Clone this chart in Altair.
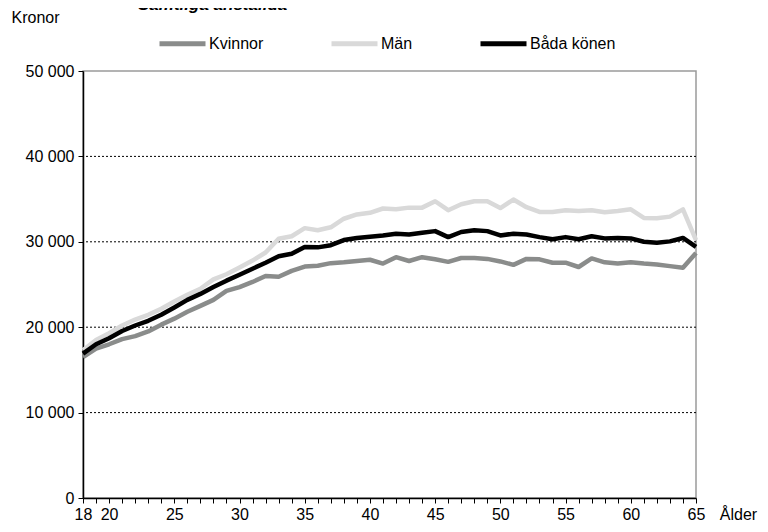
import altair as alt
import pandas as pd

ages = list(range(18, 66))
kvinnor = [16500, 17500, 18000, 18600, 18950, 19500, 20300, 21000, 21800, 22500,
           23200, 24250, 24700, 25300, 26000, 25900, 26600, 27100, 27200, 27500,
           27600, 27750, 27900, 27450, 28200, 27750, 28200, 27950, 27650, 28100,
           28100, 28000, 27700, 27300, 28000, 27950, 27550, 27550, 27050, 28050,
           27600, 27450, 27600, 27450, 27350, 27150, 26950, 28700]
man = [17300, 18500, 19300, 20200, 20900, 21450, 22150, 23000, 23800, 24500,
       25600, 26200, 27000, 27800, 28750, 30350, 30650, 31600, 31350, 31700,
       32700, 33200, 33400, 33900, 33800, 34000, 34000, 34750, 33700, 34400,
       34750, 34750, 33950, 34950, 34050, 33500, 33500, 33700, 33600, 33700,
       33450, 33600, 33800, 32800, 32750, 32950, 33800, 30200]
bada = [16900, 18000, 18700, 19550, 20200, 20750, 21450, 22300, 23200, 23900,
        24700, 25450, 26150, 26850, 27550, 28300, 28600, 29400, 29350, 29600,
        30200, 30450, 30600, 30750, 30950, 30850, 31050, 31250, 30550, 31150,
        31350, 31250, 30750, 30950, 30850, 30550, 30300, 30550, 30300, 30650,
        30400, 30450, 30400, 30000, 29900, 30050, 30450, 29400]
series_names = ["Kvinnor", "Män", "Båda könen"]
series_colors = ["#8a8c8b", "#d9d9d9", "#000000"]
y_ticks = [0, 10000, 20000, 30000, 40000, 50000]
grid_values = [10000, 20000, 30000, 40000]
x_label_values = [18, 20, 25, 30, 35, 40, 45, 50, 55, 60, 65]
title_text = ["Samtliga anställda"]

rows = []
for name, vals in zip(series_names, [kvinnor, man, bada]):
    for a, v in zip(ages, vals):
        rows.append({"Ålder": a, "Kronor": v, "Serie": name})
df = pd.DataFrame(rows)
grid_df = pd.DataFrame({"g": grid_values})
title_df = pd.DataFrame({"t": title_text})

FONT = "Liberation Sans"
FS = 16

x_scale = alt.Scale(domain=[18, 65], nice=False, zero=False)
y_scale = alt.Scale(domain=[0, 50000], nice=False)

label_test = " || ".join(f"datum.value == {v}" for v in x_label_values)

x_axis = alt.Axis(
    values=ages,
    labelExpr=f"({label_test}) ? datum.value : ''",
    tickSize=5, tickColor="black", tickWidth=1,
    domainColor="black", domainWidth=1.5,
    labelFont=FONT, labelFontSize=FS, labelColor="black", labelPadding=3,
    labelOverlap=False, labelFlush=False, grid=False,
    title="Ålder", titleFont=FONT, titleFontSize=FS, titleFontWeight="normal",
    titleColor="black", titleAngle=0, titleX=655, titleY=16,
    titleAlign="center", titleBaseline="middle",
)
y_axis = alt.Axis(
    values=y_ticks,
    labelExpr="replace(format(datum.value, ','), ',', ' ')",
    tickSize=5, tickColor="black", tickWidth=1,
    domainColor="black", domainWidth=1.5,
    labelFont=FONT, labelFontSize=FS, labelColor="black", labelPadding=4,
    grid=False,
    title="Kronor", titleFont=FONT, titleFontSize=FS, titleFontWeight="normal",
    titleColor="black", titleAngle=0, titleX=-48, titleY=-54,
    titleAlign="center", titleBaseline="middle",
)

color = alt.Color(
    "Serie:N",
    scale=alt.Scale(domain=series_names, range=series_colors),
    legend=alt.Legend(
        title=None, orient="none", direction="horizontal",
        legendX=74, legendY=-53, padding=0,
        symbolType="stroke", symbolSize=2116, symbolStrokeWidth=5,
        labelFont=FONT, labelFontSize=FS, labelColor="black",
        labelOffset=1, columnPadding=57,
    ),
    sort=series_names,
)

grid = alt.Chart(grid_df).mark_rule(color="black", strokeWidth=1, strokeDash=[2, 2]).encode(
    y=alt.Y("g:Q", scale=y_scale, axis=y_axis)
)

title_mark = alt.Chart(title_df).mark_text(
    align="left", baseline="alphabetic", font=FONT, fontSize=17,
    fontWeight="bold", fontStyle="italic", color="black",
).encode(text="t:N", x=alt.value(55), y=alt.value(-61))

layers = [grid]
for name in series_names:
    layers.append(
        alt.Chart(df).transform_filter(alt.datum.Serie == name)
        .mark_line(strokeWidth=4.5, strokeJoin="round")
        .encode(
            x=alt.X("Ålder:Q", scale=x_scale, axis=x_axis),
            y=alt.Y("Kronor:Q", scale=y_scale, axis=y_axis),
            color=color,
        )
    )
layers.append(title_mark)

chart = alt.layer(*layers).properties(
    width=613, height=427,
    autosize=alt.AutoSizeParams(type="none"),
    padding={"left": 75, "top": 63, "right": 64, "bottom": 26},
).configure(
    background="white",
    view=alt.ViewConfig(stroke="#9a9a9a", strokeWidth=1.5),
)

chart.save("out.html", embed_options={"renderer": "svg", "actions": False})
